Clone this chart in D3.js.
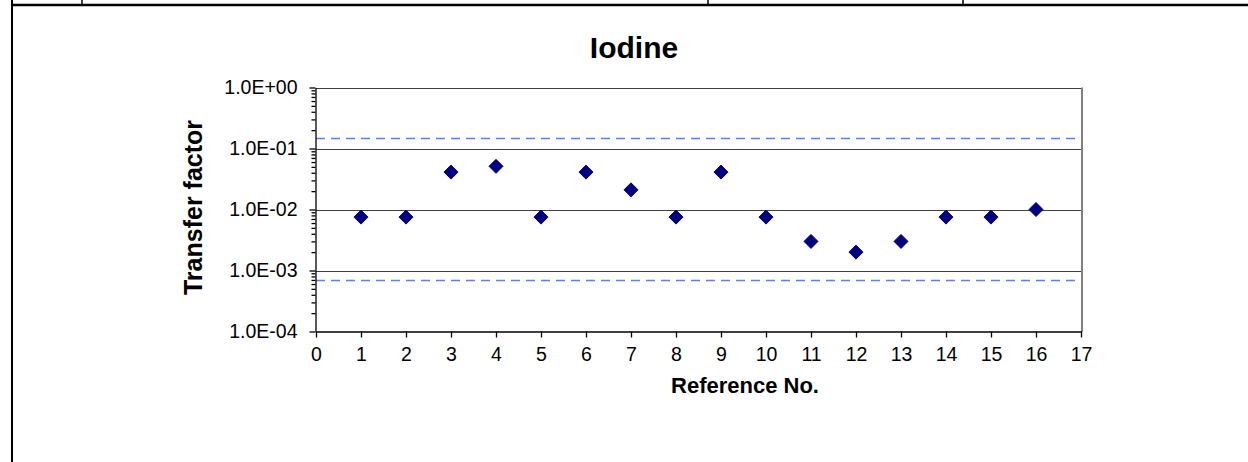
<!DOCTYPE html>
<html><head><meta charset="utf-8">
<script src="https://cdn.jsdelivr.net/npm/d3@7"></script>
<style>body{margin:0;background:#fff;}svg{display:block;}</style>
</head><body>
<script>
const refNo = [1,2,3,4,5,6,7,8,9,10,11,12,13,14,15,16];
const transferFactor = [0.0075,0.0075,0.041,0.051,0.0075,0.041,0.021,0.0075,0.041,0.0075,0.003,0.002,0.003,0.0075,0.0075,0.01];
const limits = [0.15, 0.0007];
const yTicks = [1e0,1e-1,1e-2,1e-3,1e-4];
const yTickLabels = ["1.0E+00","1.0E-01","1.0E-02","1.0E-03","1.0E-04"];
const xTicks = d3.range(0,18);

const W=1248,H=462;
const svg=d3.select("body").append("svg").attr("width",W).attr("height",H);
const font="Liberation Sans, Arial, sans-serif";

// page table lines
svg.append("line").attr("x1",12).attr("x2",W).attr("y1",5).attr("y2",5).attr("stroke","#000").attr("stroke-width",2.5);
svg.append("line").attr("x1",12).attr("x2",12).attr("y1",0).attr("y2",H).attr("stroke","#000").attr("stroke-width",2);
[82,708,963].forEach(x=>svg.append("line").attr("x1",x).attr("x2",x).attr("y1",0).attr("y2",5).attr("stroke","#000").attr("stroke-width",1.5));

const x=d3.scaleLinear().domain([0,17]).range([316,1081]);
const y=d3.scaleLog().domain([1e-4,1]).range([331.5,87.5]);

// gridlines
svg.append("g").selectAll("line").data(yTicks.slice(0,4)).join("line")
  .attr("x1",316).attr("x2",1081).attr("y1",d=>Math.round(y(d))+0.5).attr("y2",d=>Math.round(y(d))+0.5)
  .attr("stroke","#404040").attr("stroke-width",1.2);

// right border
svg.append("line").attr("x1",1082).attr("x2",1082).attr("y1",87.5).attr("y2",332).attr("stroke","#808080").attr("stroke-width",2);

// limit dashed lines
svg.append("g").selectAll("line").data(limits).join("line")
  .attr("x1",316).attr("x2",1077).attr("y1",d=>Math.round(y(d))+0.5).attr("y2",d=>Math.round(y(d))+0.5)
  .attr("stroke","#5b7dff").attr("stroke-width",1.6).attr("stroke-dasharray","9,6");

// y axis
const minorTicks=[];
for(let e=-4;e<0;e++){for(let m=2;m<=9;m++)minorTicks.push(m*Math.pow(10,e));}
const yAxisG=svg.append("g").attr("transform","translate(315.5,0)");
yAxisG.call(d3.axisLeft(y).tickValues(minorTicks).tickSize(4).tickFormat(""));
yAxisG.call(g=>g.select(".domain").remove());
const yMaj=svg.append("g").attr("transform","translate(315.5,0)")
  .call(d3.axisLeft(y).tickValues(yTicks).tickSize(6).tickSizeOuter(0).tickPadding(12).tickFormat((d,i)=>yTickLabels[i]));
yMaj.selectAll("text").attr("font-family",font).attr("font-size",19.5).attr("fill","#000").attr("dy","0.3em");
svg.selectAll(".domain, .tick line").attr("stroke","#000").attr("stroke-width",1.3);

// x axis
const xAx=svg.append("g").attr("transform","translate(0,331.5)")
  .call(d3.axisBottom(x).tickValues(xTicks).tickSize(6).tickSizeOuter(0).tickPadding(10).tickFormat(d3.format("d")));
xAx.selectAll("text").attr("font-family",font).attr("font-size",19.5).attr("fill","#000");
xAx.selectAll(".domain, .tick line").attr("stroke","#000").attr("stroke-width",1.3);

// markers
const s=7;
svg.append("g").selectAll("path").data(refNo).join("path")
  .attr("d",(d,i)=>{const cx=x(d),cy=y(transferFactor[i]);return `M${cx},${cy-s}L${cx+s},${cy}L${cx},${cy+s}L${cx-s},${cy}Z`;})
  .attr("fill","#000080").attr("stroke","#000080").attr("stroke-width",1);

// titles
svg.append("text").attr("x",634).attr("y",58).attr("text-anchor","middle").attr("font-family",font)
  .attr("font-weight","bold").attr("font-size",30).text("Iodine");
svg.append("text").attr("x",745).attr("y",393).attr("text-anchor","middle").attr("font-family",font)
  .attr("font-weight","bold").attr("font-size",22).text("Reference No.");
svg.append("text").attr("transform","translate(202,207.5) rotate(-90)").attr("text-anchor","middle").attr("font-family",font)
  .attr("font-weight","bold").attr("font-size",25).text("Transfer factor");
</script>
</body></html>
